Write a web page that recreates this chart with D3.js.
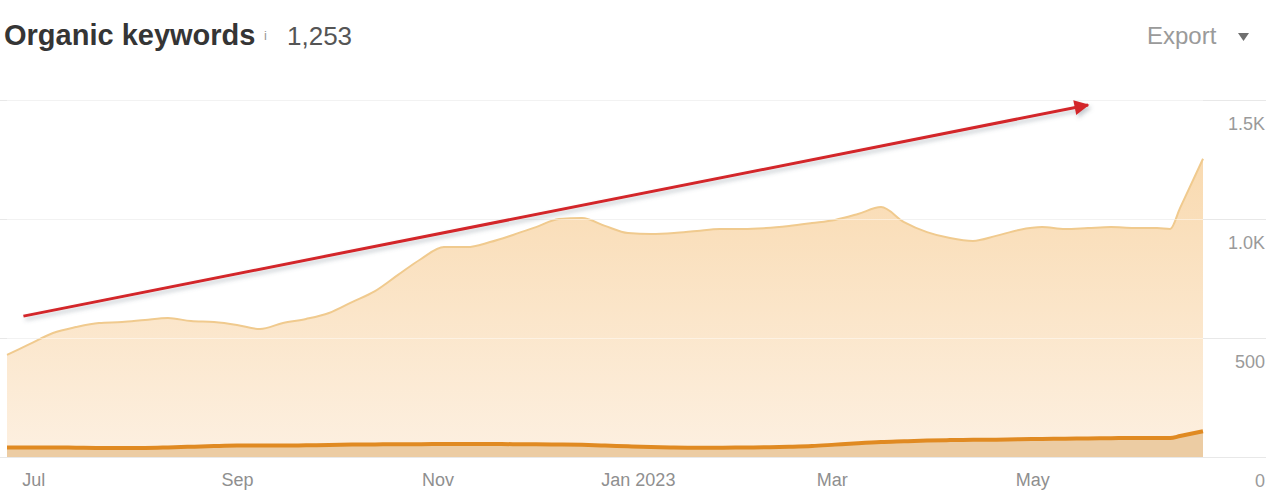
<!DOCTYPE html>
<html>
<head>
<meta charset="utf-8">
<script src="https://cdn.jsdelivr.net/npm/d3@7"></script>
<style>
  html, body { margin: 0; padding: 0; background: #fff; }
  svg { display: block; font-family: "Liberation Sans", Arial, sans-serif; }
</style>
</head>
<body>
<script>
// weekly readings (plus one extra point where the curve kinks)
const dates = [
  '2022-06-23', '2022-06-30', '2022-07-07', '2022-07-14', '2022-07-21', '2022-07-28',
  '2022-08-04', '2022-08-11', '2022-08-18', '2022-08-25', '2022-09-01', '2022-09-08',
  '2022-09-15', '2022-09-22', '2022-09-29', '2022-10-06', '2022-10-13', '2022-10-20',
  '2022-10-27', '2022-11-03', '2022-11-10', '2022-11-17', '2022-11-24', '2022-12-01',
  '2022-12-08', '2022-12-15', '2022-12-22', '2022-12-29', '2023-01-05', '2023-01-12',
  '2023-01-19', '2023-01-26', '2023-02-02', '2023-02-09', '2023-02-16', '2023-02-23',
  '2023-03-02', '2023-03-09', '2023-03-16', '2023-03-23', '2023-03-30', '2023-04-06',
  '2023-04-13', '2023-04-20', '2023-04-27', '2023-05-04', '2023-05-11', '2023-05-18',
  '2023-05-25', '2023-06-01', '2023-06-08', '2023-06-12', '2023-06-15', '2023-06-22'
];

// all organic keywords
const totalKeywords = [
  429, 475, 521, 546, 563, 567, 576, 584, 571, 567, 555, 538,
  563, 580, 605, 651, 697, 765, 832, 882, 882, 903, 933, 966,
  1000, 1004, 971, 941, 937, 941, 950, 958, 958, 962, 971, 983,
  996, 1021, 1050, 987, 945, 920, 908, 929, 954, 966, 958, 962,
  966, 962, 962, 958, 1046, 1253
];

// top positions band at the bottom
const topKeywords = [
  40, 40, 40, 39, 38, 38, 38, 40, 43, 46, 48, 48,
  48, 49, 50, 52, 53, 54, 54, 55, 55, 55, 54, 54,
  53, 51, 48, 45, 42, 40, 39, 39, 40, 41, 43, 46,
  52, 58, 63, 66, 69, 71, 72, 73, 75, 76, 77, 78,
  79, 80, 80, 80, 88, 108
];

const yTicks = [0, 500, 1000, 1500];
const yTickLabels = ['0', '500', '1.0K', '1.5K'];

// annotation arrow, in data space
const arrowFrom = ['2022-06-28', 592];
const arrowTo = ['2023-05-18', 1479];

const width = 1284;
const height = 500;

const parse = d3.utcParse('%Y-%m-%d');
const data = dates.map((d, i) => ({
  date: parse(d),
  total: totalKeywords[i],
  top: topKeywords[i]
}));

const svg = d3
  .select('body')
  .append('svg')
  .attr('width', width)
  .attr('height', height);

const defs = svg.append('defs');

const grad = defs.append('linearGradient')
  .attr('id', 'fillGrad')
  .attr('x1', 0).attr('x2', 0).attr('y1', 0).attr('y2', 1);
grad.append('stop').attr('offset', '0%').attr('stop-color', '#f9dab0');
grad.append('stop').attr('offset', '100%').attr('stop-color', '#fdf0e1');

const shadow = defs.append('filter')
  .attr('id', 'shadow')
  .attr('x', '-5%').attr('y', '-50%')
  .attr('width', '110%').attr('height', '200%');
shadow.append('feDropShadow')
  .attr('dx', 2).attr('dy', 3)
  .attr('stdDeviation', 2)
  .attr('flood-color', '#5a6a7a')
  .attr('flood-opacity', 0.35);

defs.append('marker')
  .attr('id', 'arrowHead')
  .attr('viewBox', '0 0 10 10')
  .attr('refX', 9)
  .attr('refY', 5)
  .attr('markerWidth', 7)
  .attr('markerHeight', 5)
  .attr('markerUnits', 'strokeWidth')
  .attr('orient', 'auto')
  .append('path')
  .attr('d', 'M0,0 L10,5 L0,10 Z')
  .attr('fill', '#d3282b');

const x = d3
  .scaleUtc()
  .domain(d3.extent(data, (d) => d.date))
  .range([7, 1203]);

const y = d3
  .scaleLinear()
  .domain([0, 1500])
  .range([457, 100]);

// grid
svg.append('g')
  .selectAll('line')
  .data(yTicks)
  .enter()
  .append('line')
  .attr('x1', 0)
  .attr('x2', 1266)
  .attr('y1', (d) => y(d) + 0.5)
  .attr('y2', (d) => y(d) + 0.5)
  .attr('stroke', '#e8e8e8')
  .attr('stroke-width', 1);

// main area
const area = d3.area()
  .curve(d3.curveMonotoneX)
  .x((d) => x(d.date))
  .y0(y(0))
  .y1((d) => y(d.total));

svg.append('path')
  .datum(data)
  .attr('d', area)
  .attr('fill', 'url(#fillGrad)');

svg.append('path')
  .datum(data)
  .attr('d', area.lineY1())
  .attr('fill', 'none')
  .attr('stroke', '#f0ca8e')
  .attr('stroke-width', 2);

// faint grid showing through the fill
svg.append('g')
  .selectAll('line')
  .data(yTicks.filter((d) => d > 0))
  .enter()
  .append('line')
  .attr('x1', x.range()[0])
  .attr('x2', x.range()[1])
  .attr('y1', (d) => y(d) + 0.5)
  .attr('y2', (d) => y(d) + 0.5)
  .attr('stroke', '#ffffff')
  .attr('stroke-opacity', 0.45);

// bottom band
const bandArea = d3.area()
  .curve(d3.curveMonotoneX)
  .x((d) => x(d.date))
  .y0(y(0))
  .y1((d) => y(d.top));

svg.append('path')
  .datum(data)
  .attr('d', bandArea)
  .attr('fill', '#eccca3');

svg.append('path')
  .datum(data)
  .attr('d', bandArea.lineY1())
  .attr('fill', 'none')
  .attr('stroke', '#e08a22')
  .attr('stroke-width', 4);

// y labels
svg.append('g')
  .selectAll('text')
  .data(yTicks)
  .enter()
  .append('text')
  .attr('x', 1265)
  .attr('y', (d) => y(d) + 30)
  .attr('text-anchor', 'end')
  .attr('font-size', 18)
  .attr('fill', '#9a9a9a')
  .text((d, i) => yTickLabels[i]);

// x axis
const xAxis = d3.axisBottom(x)
  .ticks(d3.utcMonth.every(2))
  .tickSize(0)
  .tickFormat((d) => d.getUTCMonth() === 0 ? d3.utcFormat('%b %Y')(d) : d3.utcFormat('%b')(d));

const gx = svg.append('g')
  .attr('transform', `translate(0,${y(0)})`)
  .call(xAxis);
gx.select('.domain').remove();
gx.selectAll('text')
  .attr('y', 29)
  .attr('dy', 0)
  .attr('font-size', 18)
  .attr('font-family', '"Liberation Sans", Arial, sans-serif')
  .attr('fill', '#8f8f8f');

// arrow
svg.append('line')
  .attr('x1', x(parse(arrowFrom[0])))
  .attr('y1', y(arrowFrom[1]))
  .attr('x2', x(parse(arrowTo[0])))
  .attr('y2', y(arrowTo[1]))
  .attr('stroke', '#d3282b')
  .attr('stroke-width', 3)
  .attr('marker-end', 'url(#arrowHead)')
  .attr('filter', 'url(#shadow)');

// header
svg.append('text')
  .attr('x', 4)
  .attr('y', 45)
  .attr('font-size', 29)
  .attr('font-weight', 'bold')
  .attr('fill', '#353535')
  .text('Organic keywords');

svg.append('text')
  .attr('x', 264)
  .attr('y', 40)
  .attr('font-size', 13)
  .attr('fill', '#999999')
  .text('i');

svg.append('text')
  .attr('x', 287)
  .attr('y', 45)
  .attr('font-size', 26)
  .attr('fill', '#555555')
  .text('1,253');

svg.append('text')
  .attr('x', 1147)
  .attr('y', 44)
  .attr('font-size', 24)
  .attr('fill', '#9a9a9a')
  .text('Export');

svg.append('path')
  .attr('d', 'M1238,33 L1249,33 L1243.5,41 Z')
  .attr('fill', '#6f6f6f');
</script>
</body>
</html>
